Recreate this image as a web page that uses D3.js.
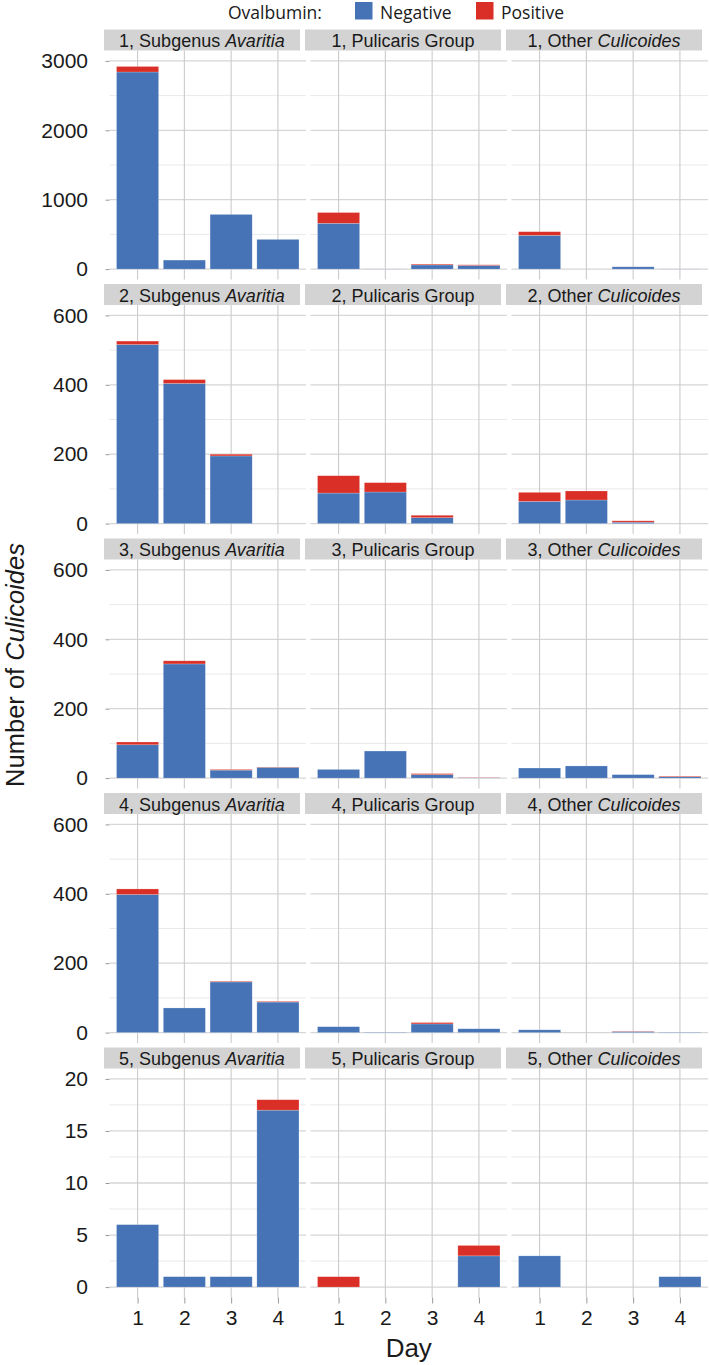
<!DOCTYPE html>
<html>
<head>
<meta charset="utf-8">
<script src="https://cdn.jsdelivr.net/npm/d3@7"></script>
<style>
  html, body { margin: 0; padding: 0; background: #fff; }
  svg { display: block; }
</style>
</head>
<body>
<svg id="chart" width="709" height="1365"></svg>
<script>
// ---------------- DATA ----------------
const days = [1, 2, 3, 4];
const rowIds = [1, 2, 3, 4, 5];
const groupPrefix = ["Subgenus ", "Pulicaris Group", "Other "];
const groupItalic = ["Avaritia", "", "Culicoides"];
const seriesNames = ["Negative", "Positive"];
const seriesColors = ["#4573b6", "#da2f26"];

// negative / positive counts: [Avaritia, Pulicaris, Other] x days 1-4
const negRow1 = [[2840, 130, 788, 428], [660, 2, 60, 52], [486, 0, 33, 2]];
const posRow1 = [[80, 0, 0, 0], [155, 0, 12, 10], [53, 0, 0, 0]];
const negRow2 = [[516, 404, 195, 0], [88, 91, 17, 0], [64, 68, 4, 0]];
const posRow2 = [[10, 11, 5, 0], [50, 27, 7, 0], [26, 26, 4, 0]];
const negRow3 = [[96, 329, 23, 31], [25, 78, 10, 1], [29, 35, 10, 4]];
const posRow3 = [[8, 9, 2, 1], [0, 0, 3, 1], [0, 0, 0, 2]];
const negRow4 = [[398, 71, 146, 88], [17, 1, 25, 11], [8, 0, 3, 1]];
const posRow4 = [[16, 0, 2, 2], [0, 0, 4, 0], [0, 0, 1, 0]];
const negRow5 = [[6, 1, 1, 17], [0, 0, 0, 3], [3, 0, 0, 1]];
const posRow5 = [[0, 0, 0, 1], [1, 0, 0, 1], [0, 0, 0, 0]];

const yMaxByRow = [3000, 600, 600, 600, 20];
const yTicksByRow = [[0, 1000, 2000, 3000], [0, 200, 400, 600], [0, 200, 400, 600], [0, 200, 400, 600], [0, 5, 10, 15, 20]];
const yMinorByRow = [[500, 1500, 2500], [100, 300, 500], [100, 300, 500], [100, 300, 500], [2.5, 7.5, 12.5, 17.5]];

const negByRow = [negRow1, negRow2, negRow3, negRow4, negRow5];
const posByRow = [posRow1, posRow2, posRow3, posRow4, posRow5];

// ---------------- LAYOUT ----------------
const svg = d3.select("#chart");
const FONT = "'Liberation Sans', Arial, Helvetica, sans-serif";
const panelLeft0 = 109.5, panelW = 196.5, panelGap = 4.5;
const panelTop0 = 50.5, rowStep = 254.5, panelH = 229, stripH = 21, stripShift = -5.5;

svg.append("rect").attr("width", 709).attr("height", 1365).attr("fill", "#fff");

// Legend
const leg = svg.append("g").attr("font-family", "'Open Sans', sans-serif").attr("font-size", 17.5).attr("fill", "#1a1a1a");
leg.append("text").attr("x", 228).attr("y", 18.8).text("Ovalbumin:");
const legX = [355, 476];
seriesNames.forEach((s, i) => {
  leg.append("rect").attr("x", legX[i]).attr("y", 2).attr("width", 17.5).attr("height", 17.5).attr("fill", seriesColors[i]);
  leg.append("text").attr("x", legX[i] + 25).attr("y", 18.8).text(s);
});

rowIds.forEach((rid, r) => {
  const top = panelTop0 + r * rowStep;
  const y = d3.scaleLinear()
    .domain([-0.05 * yMaxByRow[r], 1.05 * yMaxByRow[r]])
    .range([top + panelH, top]);

  groupPrefix.forEach((gp, g) => {
    const left = panelLeft0 + g * (panelW + panelGap);
    const x = d3.scalePoint().domain(days).range([left, left + panelW]).padding(0.6);
    const step = x.step();
    const pg = svg.append("g");

    // strip
    pg.append("rect").attr("x", left + stripShift).attr("y", top - stripH)
      .attr("width", panelW - 0.5).attr("height", stripH).attr("fill", "#d3d3d3");
    const st = pg.append("text").attr("x", left + stripShift + (panelW - 0.5) / 2).attr("y", top - stripH + 17.5)
      .attr("text-anchor", "middle").attr("font-family", FONT).attr("font-size", 18).attr("fill", "#1a1a1a");
    st.append("tspan").text(rid + ", " + gp);
    if (groupItalic[g]) st.append("tspan").attr("font-style", "italic").text(groupItalic[g]);

    // minor horizontal grid
    pg.selectAll(".mn").data(yMinorByRow[r]).join("line")
      .attr("x1", left).attr("x2", left + panelW)
      .attr("y1", d => y(d)).attr("y2", d => y(d))
      .attr("stroke", "#e9e9e9").attr("stroke-width", 1);
    // major horizontal grid
    pg.selectAll(".mj").data(yTicksByRow[r]).join("line")
      .attr("x1", left).attr("x2", left + panelW)
      .attr("y1", d => y(d)).attr("y2", d => y(d))
      .attr("stroke", "#d6d6d6").attr("stroke-width", 1.3);
    // vertical grid
    pg.selectAll(".vg").data(days).join("line")
      .attr("x1", d => x(d)).attr("x2", d => x(d))
      .attr("y1", top).attr("y2", top + panelH)
      .attr("stroke", "#cbcbcb").attr("stroke-width", 1.1);

    // bars (stacked)
    const neg = negByRow[r][g], pos = posByRow[r][g];
    const bw = step * 0.9;
    const stackData = days.map((d, i) => ({ day: d, Negative: neg[i], Positive: pos[i] }));
    const stacked = d3.stack().keys(seriesNames)(stackData);
    stacked.forEach((layer, si) => {
      pg.selectAll(".b" + si).data(layer.filter(d => d[1] > d[0])).join("rect")
        .attr("x", d => x(d.data.day) - bw / 2)
        .attr("width", bw)
        .attr("y", d => y(d[1]))
        .attr("height", d => y(d[0]) - y(d[1]))
        .attr("fill", seriesColors[si])
        .attr("stroke", "#ffffff").attr("stroke-opacity", 0.35).attr("stroke-width", 0.6);
    });

    // y axis on first column
    if (g === 0) {
      const ax = svg.append("g").attr("transform", `translate(${left},0)`)
        .call(d3.axisLeft(y).tickValues(yTicksByRow[r]).tickFormat(d3.format("d")).tickSize(4).tickPadding(17.5));
      ax.select(".domain").remove();
      ax.selectAll(".tick line").attr("stroke", "#999");
      ax.selectAll("text").attr("font-family", FONT).attr("font-size", 21).attr("fill", "#1a1a1a");
    }
    // x axis on last row
    if (r === rowIds.length - 1) {
      const ax = svg.append("g").attr("transform", `translate(0,${top + panelH})`)
        .call(d3.axisBottom(x).tickSize(6).tickPadding(6.5));
      ax.select(".domain").remove();
      ax.selectAll(".tick line").attr("stroke", "#999");
      ax.selectAll("text").attr("font-family", FONT).attr("font-size", 21).attr("fill", "#1a1a1a");
    }
  });
});

// axis titles
const yt = svg.append("text").attr("transform", "translate(24,665) rotate(-90)")
  .attr("text-anchor", "middle").attr("font-family", FONT).attr("font-size", 25.5).attr("fill", "#1a1a1a");
yt.append("tspan").text("Number of ");
yt.append("tspan").attr("font-style", "italic").text("Culicoides");

svg.append("text").attr("x", panelLeft0 + (3 * panelW + 2 * panelGap) / 2).attr("y", 1357)
  .attr("text-anchor", "middle").attr("font-family", FONT).attr("font-size", 26).attr("fill", "#1a1a1a")
  .text("Day");
</script>
</body>
</html>
